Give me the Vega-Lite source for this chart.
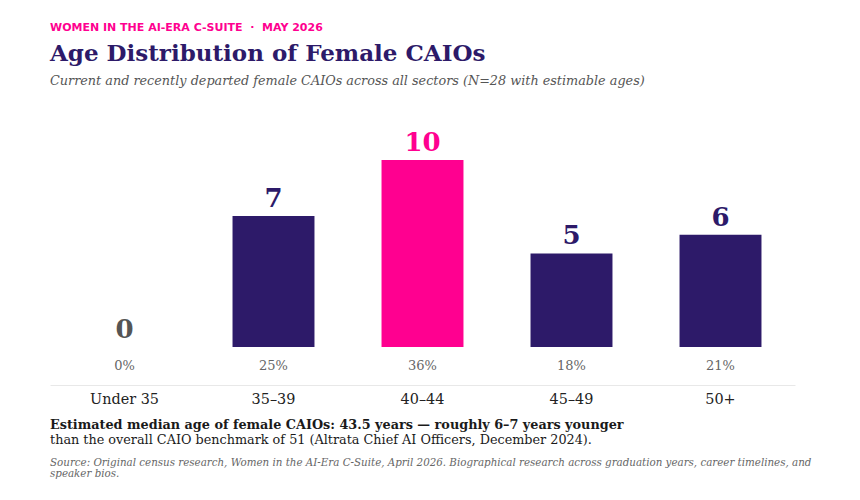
{
  "$schema": "https://vega.github.io/schema/vega-lite/v6.json",
  "padding": {"left": 50, "right": 40, "top": 22, "bottom": 0},
  "background": "#ffffff",
  "title": {
    "text": "WOMEN IN THE AI-ERA C-SUITE\u00a0\u00a0·\u00a0\u00a0MAY 2026",
    "anchor": "start",
    "frame": "group",
    "font": "DejaVu Sans",
    "fontSize": 11,
    "fontWeight": "bold",
    "letterSpacing": 0.25,
    "color": "#ff0090",
    "offset": 10
  },
  "spacing": 12,
  "vconcat": [
    {
      "width": 745,
      "height": 255,
      "title": {
        "text": "Age Distribution of Female CAIOs",
        "subtitle": "Current and recently departed female CAIOs across all sectors (N=28 with estimable ages)",
        "anchor": "start",
        "frame": "group",
        "font": "DejaVu Serif",
        "fontSize": 23,
        "fontWeight": "bold",
        "color": "#2d1a69",
        "subtitleFont": "DejaVu Serif",
        "subtitleFontSize": 12.8,
        "subtitleFontStyle": "italic",
        "subtitleColor": "#555555",
        "subtitlePadding": 9,
        "offset": 42
      },
      "data": {
        "values": [
          {"age": "Under 35", "count": 0, "pct": "0%", "tone": "zero"},
          {"age": "35–39", "count": 7, "pct": "25%", "tone": "base"},
          {"age": "40–44", "count": 10, "pct": "36%", "tone": "peak"},
          {"age": "45–49", "count": 5, "pct": "18%", "tone": "base"},
          {"age": "50+", "count": 6, "pct": "21%", "tone": "base"}
        ]
      },
      "encoding": {
        "x": {
          "field": "age",
          "type": "nominal",
          "sort": null,
          "scale": {"paddingInner": 0.45, "paddingOuter": 0.225},
          "axis": {
            "title": null,
            "labelAngle": 0,
            "ticks": false,
            "domainColor": "#e8e8e8",
            "labelFont": "DejaVu Serif",
            "labelFontSize": 14.4,
            "labelColor": "#222222",
            "labelPadding": 7
          }
        }
      },
      "layer": [
        {
          "mark": {"type": "bar"},
          "encoding": {
            "y": {
              "field": "count",
              "type": "quantitative",
              "scale": {"domain": [-2.03, 11.6], "nice": false, "zero": false},
              "axis": null
            },
            "y2": {"datum": 0},
            "color": {
              "field": "tone",
              "type": "nominal",
              "scale": {"domain": ["zero", "base", "peak"], "range": ["#555555", "#2d1a69", "#ff0090"]},
              "legend": null
            }
          }
        },
        {
          "mark": {"type": "text", "baseline": "alphabetic", "dy": -9, "font": "DejaVu Serif", "fontSize": 26, "fontWeight": "bold"},
          "encoding": {
            "y": {"field": "count", "type": "quantitative"},
            "text": {"field": "count", "type": "quantitative"},
            "color": {"field": "tone", "type": "nominal", "legend": null}
          }
        },
        {
          "mark": {"type": "text", "baseline": "middle", "font": "DejaVu Serif", "fontSize": 13, "color": "#666666"},
          "encoding": {
            "y": {"datum": -1},
            "text": {"field": "pct", "type": "nominal"}
          }
        }
      ]
    },
    {
      "spacing": -1,
      "vconcat": [
        {
          "width": 745,
          "height": 1,
          "title": {
            "text": "Estimated median age of female CAIOs: 43.5 years — roughly 6–7 years younger",
            "subtitle": "than the overall CAIO benchmark of 51 (Altrata Chief AI Officers, December 2024).",
            "anchor": "start",
            "frame": "group",
            "font": "DejaVu Serif",
            "fontSize": 12.8,
            "fontWeight": "bold",
            "color": "#1a1a1a",
            "subtitleFont": "DejaVu Serif",
            "subtitleFontSize": 12.8,
            "subtitleColor": "#1a1a1a",
            "subtitlePadding": 2,
            "offset": 0
          },
          "data": {"values": [{"t": ""}]},
          "mark": {"type": "text"},
          "encoding": {"text": {"field": "t"}}
        },
        {
          "width": 745,
          "height": 1,
          "title": {
            "text": [
              "Source: Original census research, Women in the AI-Era C-Suite, April 2026. Biographical research across graduation years, career timelines, and",
              "speaker bios."
            ],
            "anchor": "start",
            "frame": "group",
            "font": "DejaVu Serif",
            "fontSize": 10.3,
            "fontStyle": "italic",
            "fontWeight": "normal",
            "color": "#666666",
            "lineHeight": 11.5,
            "offset": 0
          },
          "data": {"values": [{"t": ""}]},
          "mark": {"type": "text"},
          "encoding": {"text": {"field": "t"}}
        }
      ]
    }
  ],
  "config": {"view": {"stroke": null}}
}
